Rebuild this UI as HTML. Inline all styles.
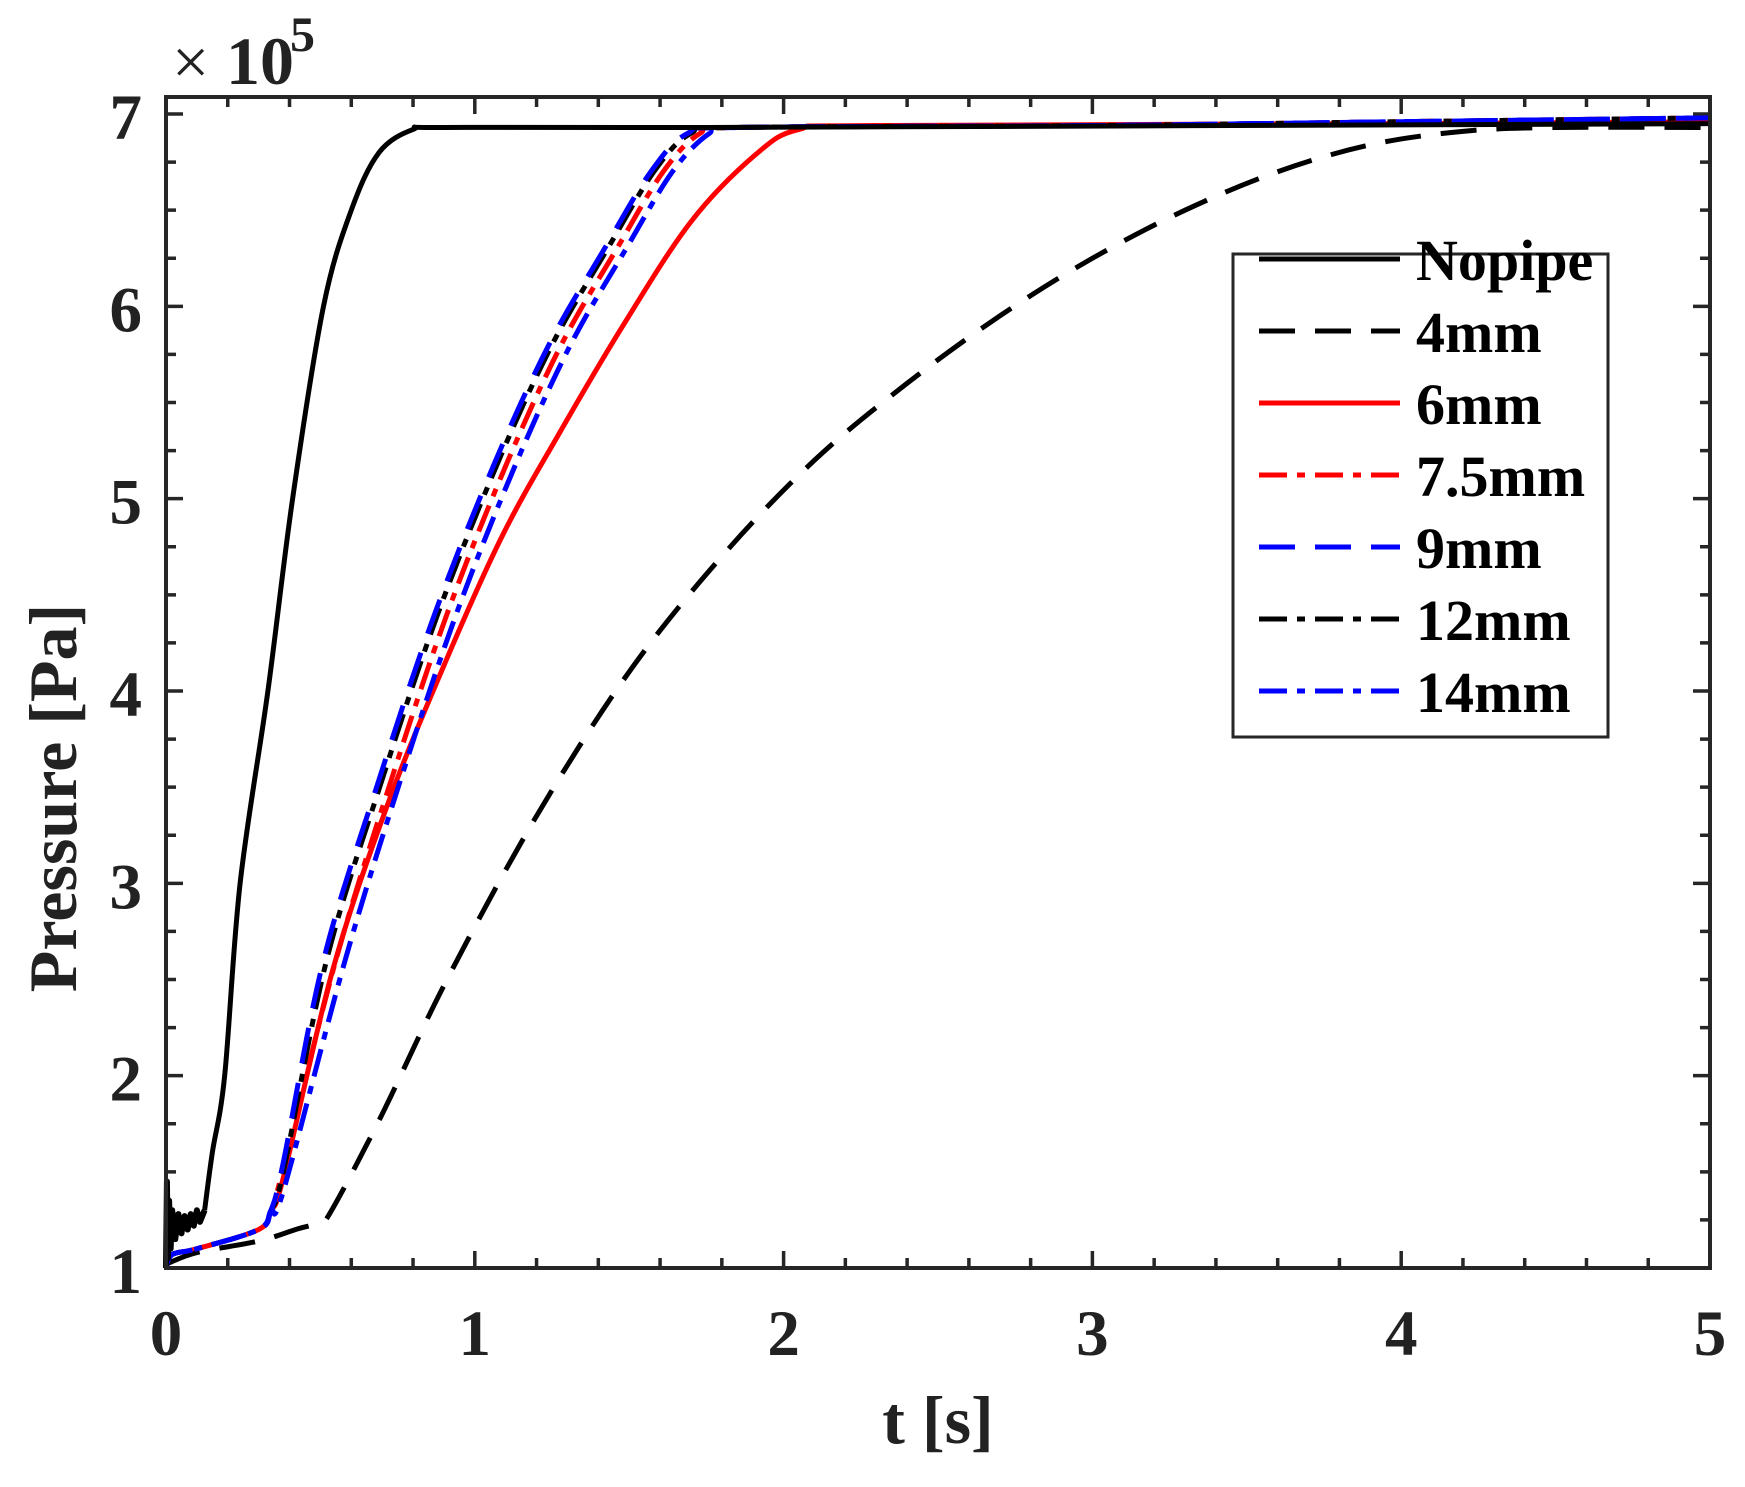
<!DOCTYPE html>
<html><head><meta charset="utf-8"><style>
html,body{margin:0;padding:0;background:#fff;}
svg{display:block;}
text{font-family:"Liberation Serif",serif;font-weight:bold;fill:#222;}
</style></head><body>
<svg id="s" width="1745" height="1487" xmlns="http://www.w3.org/2000/svg">
<rect width="1745" height="1487" fill="#fff"/>
<g id="ticks" stroke="#262626" stroke-width="3.5"></g>
<g id="curves" fill="none" stroke-width="5" stroke-linejoin="round"></g>
<rect x="166" y="97" width="1544" height="1171" fill="none" stroke="#262626" stroke-width="4"/>
<g id="labels"></g>
<text x="172" y="84" font-size="66" style="font-weight:normal">×</text>
<text x="226" y="84" font-size="68">10</text>
<text x="290" y="51" font-size="50">5</text>
<text x="938" y="1443" font-size="68" text-anchor="middle">t [s]</text>
<text transform="translate(76,798) rotate(-90)" font-size="68" text-anchor="middle">Pressure [Pa]</text>
<rect x="1233" y="254" width="375" height="483" fill="#fff" stroke="#262626" stroke-width="3"/>
<g id="legend"></g>
</svg>
<script>
const NS="http://www.w3.org/2000/svg";
const X=t=>166+308.8*t, Y=p=>1268-192.33*(p-1);
function el(tag,attrs,parent,txt){const e=document.createElementNS(NS,tag);for(const k in attrs)e.setAttribute(k,attrs[k]);if(txt!==undefined)e.textContent=txt;parent.appendChild(e);return e;}
const tk=document.getElementById('ticks'), lb=document.getElementById('labels');
let d='';
for(let i=0;i<=25;i++){const x=X(i*0.2);const L=(i%5==0)?17:10;d+=`M${x},1268v${-L}M${x},97v${L}`;}
for(let i=0;i<=24;i++){const y=Y(1+i*0.25);const L=(i%4==0)?17:10;d+=`M166,${y}h${L}M1710,${y}h${-L}`;}
el('path',{d:d},tk);
for(let i=0;i<=5;i++)el('text',{x:X(i),y:1355,'font-size':65,'text-anchor':'middle'},lb,String(i));
for(let p=1;p<=7;p++)el('text',{x:142,y:Y(p)+25,'font-size':65,'text-anchor':'end'},lb,String(p));
function spline(pts){let s=`M${X(pts[0][0])},${Y(pts[0][1])}`;
 const P=pts.map(q=>[X(q[0]),Y(q[1])]);
 for(let i=0;i<P.length-1;i++){const p0=P[Math.max(0,i-1)],p1=P[i],p2=P[i+1],p3=P[Math.min(P.length-1,i+2)];
  const c1=[p1[0]+(p2[0]-p0[0])/6,p1[1]+(p2[1]-p0[1])/6],c2=[p2[0]-(p3[0]-p1[0])/6,p2[1]-(p3[1]-p1[1])/6];
  s+=`C${c1[0]},${c1[1]} ${c2[0]},${c2[1]} ${p2[0]},${p2[1]}`;}
 return s;}
function poly(pts){return 'M'+pts.map(q=>X(q[0])+','+Y(q[1])).join('L');}
const cg=document.getElementById('curves');
const DASH='36 20', DD='28 10 8 10';
const group=(dx,dp)=>[[0,1.0],[0.02,1.07],[0.1,1.1],[0.3,1.2],[0.34,1.3],[0.38,1.5+dp],[0.54+dx,2.6],[0.72+dx,3.54],[0.9+dx,4.4],[1.09+dx,5.17],[1.27+dx,5.8],[1.45+dx,6.3],[1.6+dx,6.7],[1.72+dx,6.9],[1.85,6.93],[3,6.94],[4,6.96],[5,6.98]];
const series=[
 ['#f00','',[[0,1.0],[0.02,1.07],[0.1,1.1],[0.3,1.2],[0.34,1.3],[0.38,1.47],[0.54,2.55],[0.72,3.42],[0.91,4.17],[1.09,4.81],[1.27,5.33],[1.48,5.9],[1.7,6.44],[1.91,6.79],[2.05,6.92],[2.3,6.94],[4,6.95],[5,6.96]]],
 ['#000',DASH,[[0,1.02],[0.1,1.08],[0.3,1.14],[0.42,1.2],[0.5,1.24],[0.54,1.31],[0.7,1.8],[0.91,2.5],[1.2,3.35],[1.5,4.1],[1.8,4.7],[2.1,5.2],[2.4,5.6],[2.7,5.95],[3.0,6.25],[3.3,6.5],[3.6,6.7],[3.9,6.84],[4.2,6.91],[4.5,6.93],[5,6.93]]],
 ['#f00',DD,group(0.01,0.02)],
 ['#000',DD,group(-0.02,0)],
 ['#00f',DASH,group(-0.03,0.05)],
 ['#00f',DD,group(0.04,-0.1)],
 ['#000','',[[0.125,1.3],[0.15,1.6],[0.19,2.0],[0.24,3.0],[0.33,4.0],[0.41,5.0],[0.51,6.0],[0.6,6.5],[0.69,6.8],[0.8,6.92],[0.9,6.93],[1.75,6.93],[5,6.95]]],
];
for(const [c,da,pts] of series){const a={d:spline(pts),stroke:c};if(da)a['stroke-dasharray']=da;el('path',a,cg);}
// noisy start of Nopipe
const nz=[[0,1.0],[0.003,1.45],[0.006,1.05],[0.01,1.35],[0.015,1.1],[0.02,1.3],[0.03,1.15],[0.04,1.28],[0.05,1.18],[0.06,1.27],[0.07,1.2],[0.08,1.28],[0.09,1.22],[0.1,1.3],[0.11,1.24],[0.125,1.3]];
el('path',{d:poly(nz),stroke:'#000','stroke-width':6},cg);
const lg=document.getElementById('legend');
const leg=[['Nopipe','#000',''],['4mm','#000',DASH],['6mm','#f00',''],['7.5mm','#f00',DD],['9mm','#00f',DASH],['12mm','#000',DD],['14mm','#00f',DD]];
leg.forEach((l,i)=>{const y=259+72*i;const a={x1:1259,x2:1400,y1:y,y2:y,stroke:l[1],'stroke-width':5};if(l[2])a['stroke-dasharray']=l[2];el('line',a,lg);
 el('text',{x:1416,y:y+21,'font-size':58,style:'fill:#000'},lg,l[0]);});
</script>
</body></html>
